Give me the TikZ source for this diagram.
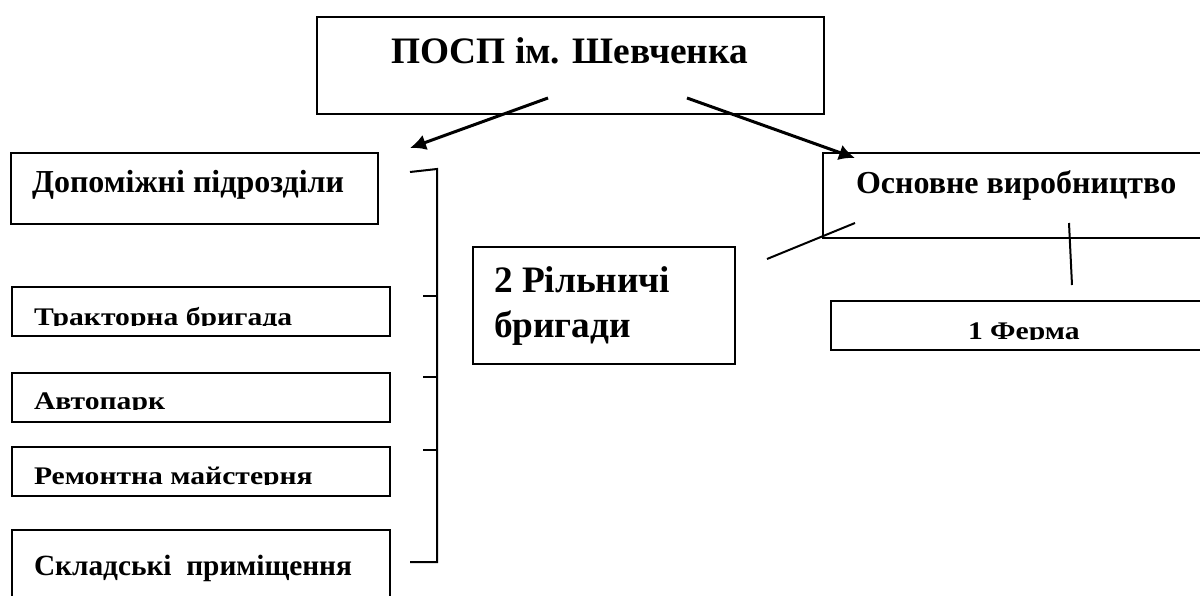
\documentclass[tikz,border=0pt]{standalone}
\usepackage{fontspec}
\setmainfont{Liberation Serif}
\newfontfamily\widefont[FakeStretch=1.17]{Liberation Serif}
\usetikzlibrary{arrows.meta}

\begin{document}
\begin{tikzpicture}[
    x=0.75pt, y=-0.75pt,
    >={Latex[length=12pt,width=12pt]},
    line width=1.5pt,
    box/.style={draw, line width=1.5pt, inner sep=0pt, anchor=north west},
    title/.style={font=\fontsize{28}{34}\selectfont\bfseries, inner sep=0pt, anchor=base},
    big/.style={font=\fontsize{24}{29}\selectfont\bfseries, inner sep=0pt, anchor=base west},
    huge/.style={font=\fontsize{28}{33.75}\selectfont\bfseries, inner sep=0pt, anchor=base west, align=left},
    small/.style={font=\widefont\fontsize{19}{23}\selectfont\bfseries, inner sep=0pt, anchor=base west},
    link/.style={line width=2.25pt, ->}
]
\path[use as bounding box, clip] (0,0) rectangle (1200,596);

% top of the structure
\node[box, minimum width=380.25pt, minimum height=72.75pt] (root) at (316,16) {};
\node[title] (roottxt) at (569.5,63) {ПОСП ім. Шевченка};
\coordinate (rootL) at (548,98);
\coordinate (rootR) at (687,98);

% auxiliary units
\node[box, minimum width=275.25pt, minimum height=53.25pt] (dop) at (10,152) {};
\node[big] (doptxt) at (31,192) {Допоміжні підрозділи};
\coordinate (dopin) at (410,148);
\draw[link] (rootL) -- (dopin);

\node[box, minimum width=283.5pt, minimum height=36.75pt] (trakt) at (11,286) {};
\begin{scope}
  \clip (trakt.north west) rectangle (389,325);
  \node[small] (trakttxt) at (33,325) {Тракторна бригада};
\end{scope}

\node[box, minimum width=283.5pt, minimum height=36.75pt] (avto) at (11,372) {};
\begin{scope}
  \clip (avto.north west) rectangle (389,409);
  \node[small] (avtotxt) at (33,409) {Автопарк};
\end{scope}

\node[box, minimum width=283.5pt, minimum height=36.75pt] (remont) at (11,446) {};
\begin{scope}
  \clip (remont.north west) rectangle (389,484);
  \node[small] (remonttxt) at (33,484) {Ремонтна майстерня};
\end{scope}

\node[box, minimum width=283.5pt, minimum height=68.25pt] (sklad) at (11,529) {};
\node[big, font=\fontsize{22}{26}\selectfont\bfseries] (skladtxt) at (33,575) {Складські~ приміщення};

% bracket
\coordinate (brtop) at (437,169);
\coordinate (brbot) at (437,562);
\draw (410,172) -- (brtop) -- (brbot) -- (410,562);
\draw (423,296) -- (437,296);
\draw (423,377) -- (437,377);
\draw (423,450) -- (437,450);

% main production
\node[box, minimum width=306pt, minimum height=63.75pt] (osn) at (822,152) {};
\node[big] (osntxt) at (855,193) {Основне виробництво};
\coordinate (osnin) at (855,158);
\draw[link] (rootR) -- (osnin);

\node[box, minimum width=196.5pt, minimum height=87.75pt] (riln) at (472,246) {};
\node[huge] (rilntxt) at (493,337) {2 Рільничі\\бригади};

\node[box, minimum width=300pt, minimum height=36.75pt] (ferma) at (830,300) {};
\begin{scope}
  \clip (ferma.north west) rectangle (1200,339);
  \node[small] (fermatxt) at (967,339) {1 Ферма};
\end{scope}

\coordinate (osnA) at (855,223);
\coordinate (rilnA) at (767,259);
\draw (rilnA) -- (osnA);
\coordinate (osnB) at (1069,223);
\coordinate (fermaB) at (1072,285);
\draw (osnB) -- (fermaB);
\end{tikzpicture}
\end{document}
